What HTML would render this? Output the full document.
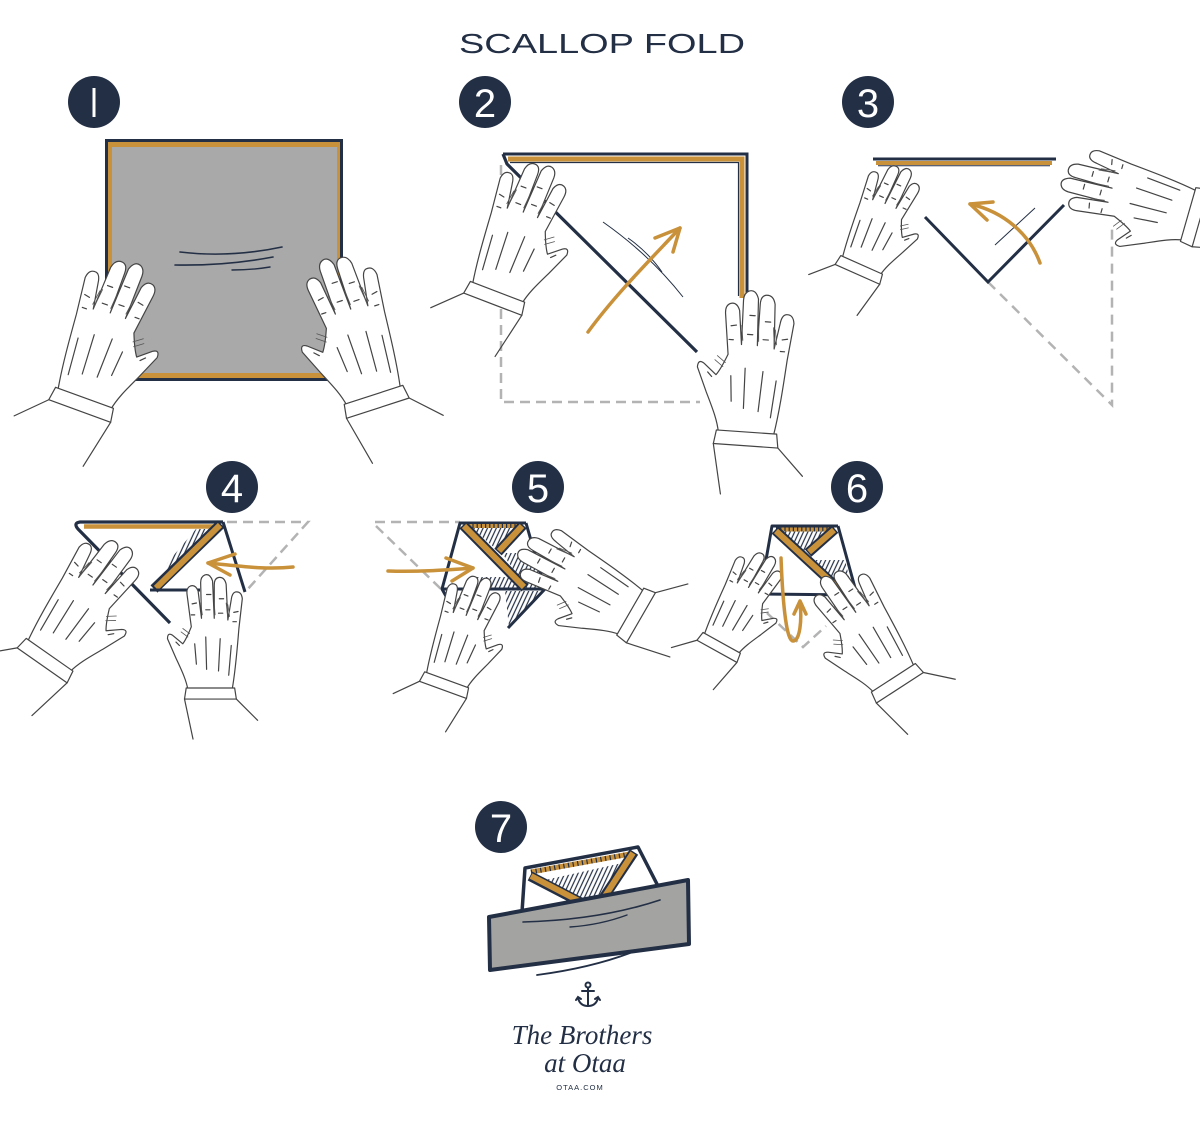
<!DOCTYPE html>
<html><head><meta charset="utf-8"><style>
html,body{margin:0;padding:0;background:#fff;}
svg{display:block;}
.h *{vector-effect:non-scaling-stroke;}
</style></head><body>
<svg width="1200" height="1140" viewBox="0 0 1200 1140" xmlns="http://www.w3.org/2000/svg">
<defs>
<pattern id="hatch" patternUnits="userSpaceOnUse" width="4" height="4" patternTransform="rotate(25)"><rect width="4" height="4" fill="#fff"/><line x1="1" y1="0" x2="1" y2="4" stroke="#232f45" stroke-width="1.2"/></pattern>
<g id="hand" class="h" stroke="#444" stroke-width="1.2" stroke-linecap="round" stroke-linejoin="round" fill="none">
 <path fill="#fff" d="M -26,2 C -30,-20 -32,-45 -34,-70 L -38,-105 Q -37,-114 -30,-113 Q -26,-112 -25,-104 L -21,-80 L -19,-122 Q -17,-131 -10,-130 Q -5,-129 -5,-121 L -5,-82 L -3,-126 Q 0,-135 6,-133 Q 11,-131 11,-124 L 10,-82 L 14,-114 Q 17,-122 23,-120 Q 28,-118 27,-110 L 22,-72 C 26,-62 29,-56 32,-52 L 44,-62 Q 50,-66 50,-58 L 40,-35 C 34,-22 28,-10 26,2 Z"/>
 <path fill="#fff" d="M -29,0 L 28,0 L 30,13 L -31,13 Z"/>
 <path d="M -31,13 L -56,38 M 30,13 L 20,60"/>
 <path d="M -22,-15 L -25,-50 M -10,-20 L -12,-58 M 4,-22 L 5,-60 M 16,-28 L 18,-52 M -33,-90 l 5,1 M -16,-105 l 5,0 M -1,-110 l 5,0 M 16,-100 l 5,1 M -31,-78 l 4,0 M -15,-88 l 5,0 M 0,-92 l 5,0 M 18,-86 l 4,0 M 36,-50 l 4,-4"/>
 <path stroke="#555" stroke-width="0.8" d="M -23,-84 l 2,-14 M -21,-82 l 2,-18 M -6,-86 l 1,-14 M 9,-86 l 2,-14 M 24,-64 l 8,-6 M 26,-60 l 8,-6"/>
</g>
</defs>

<!-- Title -->
<text x="459" y="53" textLength="286" lengthAdjust="spacingAndGlyphs" font-family="Liberation Sans, sans-serif" font-size="28" fill="#232f45">SCALLOP FOLD</text>

<!-- Number circles -->
<g fill="#232f45">
<circle cx="94" cy="102" r="26"/>
<circle cx="485" cy="102" r="26"/>
<circle cx="868" cy="102" r="26"/>
<circle cx="232" cy="487" r="26"/>
<circle cx="538" cy="487" r="26"/>
<circle cx="857" cy="487" r="26"/>
<circle cx="501" cy="827" r="26"/>
</g>
<g fill="#fff" font-family="Liberation Sans, sans-serif" font-size="40" text-anchor="middle">
<rect x="92.5" y="88" width="3" height="29" fill="#fff"/>
<text x="485" y="117">2</text>
<text x="868" y="117">3</text>
<text x="232" y="502">4</text>
<text x="538" y="502">5</text>
<text x="857" y="502">6</text>
<text x="501" y="842">7</text>
</g>

<!-- STEP 1 -->
<rect x="105" y="139" width="238" height="242" fill="#232f45"/>
<rect x="108" y="142" width="232" height="236" fill="#c8913a"/>
<rect x="112" y="147" width="225" height="226" fill="#a9a9a9"/>
<g fill="none" stroke="#232f45" stroke-linecap="round">
<path d="M180,252 Q230,258 282,247" stroke-width="1.6"/>
<path d="M175,265 Q225,266 273,257" stroke-width="1.6"/>
<path d="M232,270 Q252,270 270,267" stroke-width="1.4"/>
</g>

<!-- STEP 2 -->
<path d="M501,165 L501,402 L700,402" fill="none" stroke="#b3b3b3" stroke-width="2.5" stroke-dasharray="10,6"/>
<path d="M503,154 L747,154 L747,300" fill="none" stroke="#232f45" stroke-width="3"/>
<path d="M508,159 L742,159 L742,298" fill="none" stroke="#c8913a" stroke-width="5"/>
<path d="M510,162.5 L738.5,162.5 L738.5,296" fill="none" stroke="#232f45" stroke-width="1.2"/>
<path d="M503,154 L507,164 L697,352" fill="none" stroke="#232f45" stroke-width="3.2"/>
<g fill="none" stroke="#232f45" stroke-width="1">
<path d="M603,222 Q650,255 683,297"/>
<path d="M628,238 Q648,252 662,272"/>
</g>

<!-- STEP 3 -->
<path d="M988,282 L1112,405 L1112,227" fill="none" stroke="#b3b3b3" stroke-width="2.5" stroke-dasharray="10,7"/>
<path d="M873,159 L1056,159" stroke="#232f45" stroke-width="3" fill="none"/>
<path d="M876,163 L1052,163" stroke="#c8913a" stroke-width="4" fill="none"/>
<path d="M878,165.8 L1050,165.8" stroke="#232f45" stroke-width="1" fill="none"/>
<path d="M925,217 L988,282 L1064,205" fill="none" stroke="#232f45" stroke-width="3"/>
<path d="M995,245 L1035,208" stroke="#232f45" stroke-width="1" fill="none"/>

<!-- STEP 4 -->
<path d="M227,522 L308,522 L247,590" fill="none" stroke="#b3b3b3" stroke-width="2.5" stroke-dasharray="10,6"/>
<polygon points="163,575 214,529 196,529 168,562" fill="url(#hatch)"/>
<path d="M223,522 L80,522 Q73,523 78,529 L170,623" fill="none" stroke="#232f45" stroke-width="3.2" stroke-linejoin="round"/>
<path d="M84,526.5 L218,526.5" stroke="#c8913a" stroke-width="4.5"/>
<path d="M223,522 L245,592" stroke="#232f45" stroke-width="3"/>
<path d="M221,524 L154,589" stroke="#232f45" stroke-width="10" stroke-linecap="butt"/>
<path d="M220,525 L156,588" stroke="#c8913a" stroke-width="6"/>
<path d="M150,590 L200,590" stroke="#232f45" stroke-width="3"/>

<!-- STEP 5 -->
<path d="M375,522 L460,522 M376,526 L442,590" fill="none" stroke="#b3b3b3" stroke-width="2.5" stroke-dasharray="10,6"/>
<polygon points="472,528 520,528 497,550" fill="url(#hatch)"/>
<polygon points="502,553 532,553 545,589 527,589" fill="url(#hatch)"/>
<polygon points="505,591 545,591 509,627" fill="url(#hatch)"/>
<polygon points="470,577 520,577 524,588 470,588" fill="url(#hatch)"/>
<path d="M526,523 L460,523 L442,589 L447,598 M442,589 L545,589 L508,628 M526,523 L545,589" fill="none" stroke="#232f45" stroke-width="3" stroke-linejoin="round"/>
<path d="M464,526 L522,526" stroke="#c8913a" stroke-width="4"/>
<path d="M464,526 L522,526" stroke="#232f45" stroke-width="4" stroke-dasharray="1.2,3"/>
<path d="M463,525 L525,588" stroke="#232f45" stroke-width="10"/>
<path d="M464,526 L524,587" stroke="#c8913a" stroke-width="6"/>
<path d="M523,525 L498,552" stroke="#232f45" stroke-width="10"/>
<path d="M522,526 L499,551" stroke="#c8913a" stroke-width="6"/>

<!-- STEP 6 -->
<path d="M767,613 L803,647 L826,626" fill="none" stroke="#b3b3b3" stroke-width="2.5" stroke-dasharray="10,6"/>
<polygon points="782,531 830,531 806,552" fill="url(#hatch)"/>
<polygon points="815,560 845,560 852,590 843,590" fill="url(#hatch)"/>
<path d="M838,526 L772,526 L760,594 L857,595 L838,526" fill="none" stroke="#232f45" stroke-width="3" stroke-linejoin="round"/>
<path d="M776,529.5 L834,529.5" stroke="#c8913a" stroke-width="4"/>
<path d="M776,529.5 L834,529.5" stroke="#232f45" stroke-width="4" stroke-dasharray="1.2,3"/>
<path d="M775,530 L842,592" stroke="#232f45" stroke-width="10"/>
<path d="M776,531 L841,591" stroke="#c8913a" stroke-width="6"/>
<path d="M835,529 L808,553" stroke="#232f45" stroke-width="10"/>
<path d="M834,530 L809,552" stroke="#c8913a" stroke-width="6"/>

<!-- STEP 7 -->
<polygon points="525,868 638,847 658,886 522,912" fill="#fff" stroke="#232f45" stroke-width="3.5" stroke-linejoin="round"/>
<polygon points="545,880 627,862 610,895 580,900" fill="url(#hatch)"/>
<path d="M531,872 L630,854" stroke="#c8913a" stroke-width="5"/>
<path d="M531,872 L630,854" stroke="#232f45" stroke-width="5" stroke-dasharray="1.2,3.5"/>
<path d="M530,876 L582,903" stroke="#232f45" stroke-width="10"/>
<path d="M531,876 L581,902" stroke="#c8913a" stroke-width="6"/>
<path d="M634,852 L604,897" stroke="#232f45" stroke-width="10"/>
<path d="M633,853 L605,896" stroke="#c8913a" stroke-width="6"/>
<polygon points="489,917 688,880 689,944 490,970" fill="#a3a3a1" stroke="#232f45" stroke-width="4" stroke-linejoin="round"/>
<g fill="none" stroke="#232f45" stroke-linecap="round">
<path d="M523,922 Q600,920 660,900" stroke-width="1.6"/>
<path d="M570,927 Q600,925 627,915" stroke-width="1.4"/>
<path d="M537,975 Q590,968 630,953" stroke-width="1.8"/>
</g>

<!-- HANDS -->
<use href="#hand" transform="translate(85,398) rotate(20) scale(1.08)"/>
<use href="#hand" transform="translate(373,395) rotate(-18) scale(-1.08,1.08)"/>
<use href="#hand" transform="translate(498,292) rotate(21) scale(1.02)"/>
<use href="#hand" transform="translate(746,432) rotate(4) scale(-1.06,1.06)"/>
<use href="#hand" transform="translate(862,265) rotate(24) scale(0.8)"/>
<use href="#hand" transform="translate(1188,215) rotate(-74) scale(-0.98,0.98)"/>
<use href="#hand" transform="translate(50,655) rotate(35) scale(1.0)"/>
<use href="#hand" transform="translate(210,688) rotate(0) scale(-0.85,0.85)"/>
<use href="#hand" transform="translate(447,680) rotate(20) scale(0.82)"/>
<use href="#hand" transform="translate(630,612) rotate(-60) scale(-0.95,0.95)"/>
<use href="#hand" transform="translate(722,643) rotate(29) scale(0.75)"/>
<use href="#hand" transform="translate(893,678) rotate(-33) scale(-0.92,0.92)"/>

<!-- ARROWS -->
<g fill="none" stroke="#c8913a" stroke-width="3.5" stroke-linecap="round" stroke-linejoin="round">
<path d="M588,332 C615,295 650,260 680,228"/>
<path d="M655,238 L680,228 L673,252"/>
<path d="M1040,263 C1030,235 1005,212 970,204"/>
<path d="M993,202 L970,204 L987,220"/>
<path d="M293,567 C265,570 240,566 208,563"/>
<path d="M235,554 L208,563 L230,575"/>
<path d="M388,571 C420,572 445,570 473,568"/>
<path d="M446,558 L473,568 L452,581"/>
<path d="M781,558 C783,610 787,641 793,641 C800,641 802,620 800,603"/>
<path d="M794,614 L800,601 L806,614"/>
</g>

<!-- LOGO -->
<g fill="none" stroke="#232f45" stroke-width="2" stroke-linecap="round">
<circle cx="588" cy="985" r="2.5"/>
<path d="M588,987.5 L588,1006"/>
<path d="M582,991 L594,991"/>
<path d="M578,998 Q580,1006 588,1006 Q596,1006 598,998"/>
<path d="M576,1000 L578,997 L581,999 M600,1000 L598,997 L595,999"/>
</g>
<text x="582" y="1044" text-anchor="middle" font-family="Liberation Serif, serif" font-style="italic" font-size="27" fill="#232f45">The Brothers</text>
<text x="585" y="1072" text-anchor="middle" font-family="Liberation Serif, serif" font-style="italic" font-size="27" fill="#232f45">at Otaa</text>
<text x="580" y="1090" text-anchor="middle" font-family="Liberation Sans, sans-serif" font-size="7.5" letter-spacing="1" fill="#232f45">OTAA.COM</text>
</svg>
</body></html>
